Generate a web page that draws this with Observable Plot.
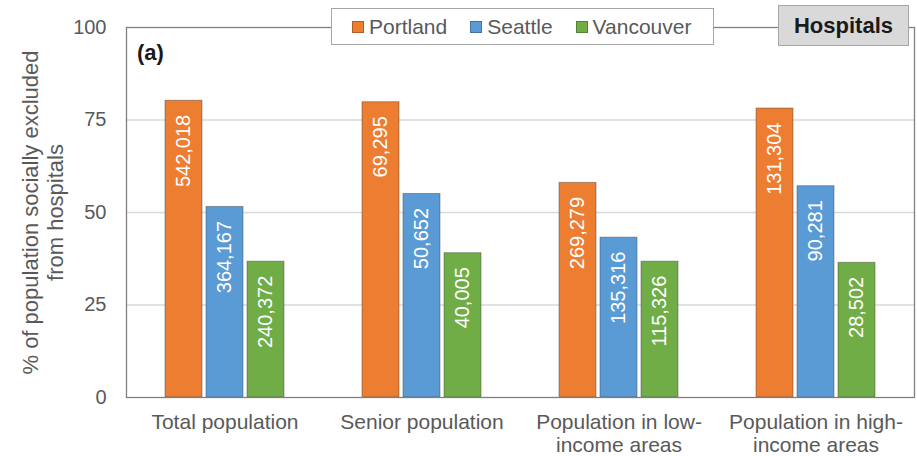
<!DOCTYPE html>
<html>
<head>
<meta charset="utf-8">
<script src="https://cdn.jsdelivr.net/npm/d3@7"></script>
<script src="https://cdn.jsdelivr.net/npm/@observablehq/plot@0.6"></script>
<style>
  body { margin: 0; background: #fff; font-family: "Liberation Sans", Arial, sans-serif; }
  #wrap { position: relative; width: 917px; height: 456px; }
  #wrap svg { display: block; }
  .legend {
    position: absolute; left: 331px; top: 8px; width: 383px; height: 37px;
    box-sizing: border-box; border: 1.5px solid #a6a6a6; background: #fff;
    display: flex; align-items: center; padding-left: 20px;
    font-size: 21px; color: #595959;
  }
  .legend .item { display: flex; align-items: center; margin-right: 23px; }
  .legend .sw { width: 12px; height: 12px; margin-right: 5px; box-sizing: border-box; border: 1px solid rgba(0,0,0,0.25); }
  .panel {
    position: absolute; left: 778px; top: 5px; width: 131px; height: 41px;
    box-sizing: border-box; border: 1.5px solid #a6a6a6; background: #d9d9d9;
    display: flex; align-items: center; justify-content: center;
    font-weight: bold; font-size: 22px; color: #1a1a1a;
  }
  .tag { position: absolute; left: 137px; top: 40px; font-weight: bold; font-size: 22px; color: #1a1a1a; }
</style>
</head>
<body>
<div id="wrap"></div>
<script>
// Groups along the x axis and their (wrapped) tick labels
const categories = ["Total population", "Senior population", "Population in low-income areas", "Population in high-income areas"];
const tickLabels = ["Total population", "Senior population", "Population in low-\nincome areas", "Population in high-\nincome areas"];

// Cities and their colours
const cities = ["Portland", "Seattle", "Vancouver"];
const colors = ["#ED7D31", "#5B9BD5", "#70AD47"];

// % of population socially excluded from hospitals, per group
const portland = [80.2, 79.8, 58.0, 78.1];
const seattle = [51.5, 55.0, 43.2, 57.1];
const vancouver = [36.7, 39.0, 36.7, 36.4];

// Number of people excluded, per group
const portlandCounts = [542018, 69295, 269279, 131304];
const seattleCounts = [364167, 50652, 135316, 90281];
const vancouverCounts = [240372, 40005, 115326, 28502];

const yTicks = [0, 25, 50, 75, 100];
const yTitle = "% of population socially excluded\nfrom hospitals";
const panelTitle = "Hospitals";
const panelTag = "(a)";

const series = [portland, seattle, vancouver];
const counts = [portlandCounts, seattleCounts, vancouverCounts];
const rows = [];
categories.forEach((category, i) => {
  cities.forEach((city, j) => {
    rows.push({category, city, value: series[j][i], count: counts[j][i]});
  });
});

const fmt = d3.format(",");

const chart = Plot.plot({
  width: 917,
  height: 456,
  marginLeft: 124,
  marginRight: 2,
  marginTop: 27,
  marginBottom: 59,
  style: {fontFamily: '"Liberation Sans", Arial, sans-serif', color: "#595959", background: "#fff"},
  fx: {domain: categories, padding: 0, label: null},
  x: {domain: cities, paddingInner: 0.09, paddingOuter: 0.945, axis: null},
  y: {domain: [0, 100], label: null},
  color: {domain: cities, range: colors},
  marks: [
    Plot.gridY([25, 50, 75], {stroke: "#d9d9d9", strokeOpacity: 1, strokeWidth: 1.3}),
    Plot.barY(rows, {fx: "category", x: "city", y: "value", fill: "city", stroke: "#404040", strokeOpacity: 0.45, strokeWidth: 1}),
    Plot.text(rows, {
      fx: "category", x: "city", y: "value",
      text: d => fmt(d.count),
      rotate: -90, textAnchor: "end", lineAnchor: "middle",
      dy: 14, fill: "white", fontSize: 20
    }),
    Plot.axisY({ticks: yTicks, tickSize: 0, tickPadding: 20, fontSize: 20, label: null}),
    Plot.axisFx({
      anchor: "bottom",
      tickSize: 0, tickPadding: 15, fontSize: 21, lineHeight: 1.1, label: null,
      tickFormat: c => tickLabels[categories.indexOf(c)]
    }),
    Plot.frame({facet: "super", stroke: "#808080", strokeWidth: 1.3}),
    Plot.text([yTitle], {
      facet: "super", frameAnchor: "left", rotate: -90, textAnchor: "middle",
      lineAnchor: "middle", lineHeight: 1.12, dx: -84, fontSize: 22, fill: "#595959"
    })
  ]
});

const wrap = document.getElementById("wrap");
wrap.appendChild(chart);

// Legend box sitting on the top edge of the frame
const legend = document.createElement("div");
legend.className = "legend";
cities.forEach((city, j) => {
  const item = document.createElement("div");
  item.className = "item";
  const sw = document.createElement("span");
  sw.className = "sw";
  sw.style.background = colors[j];
  const label = document.createElement("span");
  label.textContent = city;
  item.append(sw, label);
  legend.appendChild(item);
});
wrap.appendChild(legend);

// Panel title box and panel letter
const panel = document.createElement("div");
panel.className = "panel";
panel.textContent = panelTitle;
wrap.appendChild(panel);

const tag = document.createElement("div");
tag.className = "tag";
tag.textContent = panelTag;
wrap.appendChild(tag);
</script>
</body>
</html>
